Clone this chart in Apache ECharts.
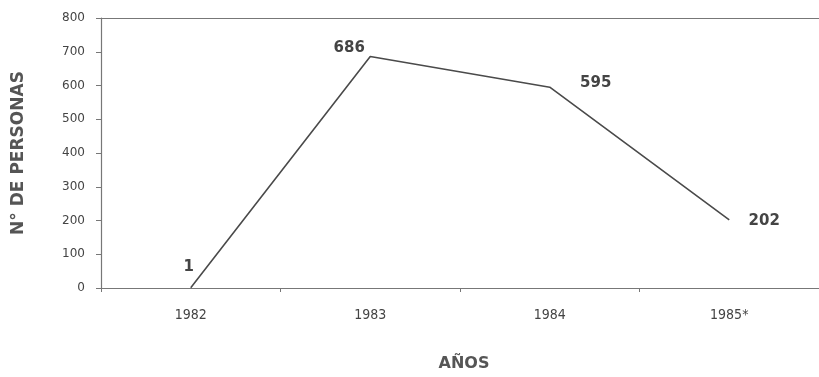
<!DOCTYPE html>
<html>
<head>
<meta charset="utf-8">
<script src="https://cdn.jsdelivr.net/npm/echarts@6/dist/echarts.min.js"></script>
<style>
  html, body { margin: 0; padding: 0; background: #fff; }
  #chart { width: 819px; height: 377px; }
</style>
</head>
<body>
<div id="chart"></div>
<script>
// Personas por año
const years = ['1982', '1983', '1984', '1985*'];
const persons = [1, 686, 595, 202];
const yTicks = [0, 100, 200, 300, 400, 500, 600, 700, 800];

// Per-point label placement
const labelPlacement = [
  { position: 'top', offset: [-2, -7] },
  { position: 'top', offset: [-21, 5] },
  { position: 'top', offset: [46, 9] },
  { position: 'top', offset: [35, 15] }
];

const chart = echarts.init(document.getElementById('chart'));
chart.setOption({
  backgroundColor: '#ffffff',
  animation: false,
  // the plot runs slightly past the right edge of the canvas
  grid: { left: 101, width: 724, top: 18, bottom: 88 },
  xAxis: [{
    type: 'category',
    data: years,
    boundaryGap: true,
    axisLine: { lineStyle: { color: '#777', width: 1.2 } },
    axisTick: { show: true, length: 4, lineStyle: { color: '#777' } },
    axisLabel: { color: '#444', fontSize: 14, fontFamily: 'DejaVu Sans Condensed', margin: 20 },
    name: 'AÑOS',
    nameLocation: 'middle',
    nameGap: 68,
    nameTextStyle: { color: '#555', fontSize: 16, fontWeight: 'bold', fontFamily: 'DejaVu Sans', padding: [0, 0, 0, 8] }
  }, {
    type: 'category',
    data: years,
    position: 'top',
    axisLine: { show: true, lineStyle: { color: '#777', width: 1.2 } },
    axisTick: { show: false },
    axisLabel: { show: false }
  }],
  yAxis: {
    type: 'value',
    min: 0,
    max: 800,
    interval: 100,
    axisLine: { show: true, lineStyle: { color: '#777', width: 1.2 } },
    axisTick: { show: true, length: 5, lineStyle: { color: '#777' } },
    splitLine: { show: false },
    axisLabel: {
      color: '#444', fontSize: 12, fontFamily: 'DejaVu Sans', margin: 16,
      formatter: v => (yTicks.indexOf(v) >= 0 ? String(v) : '')
    },
    name: 'N° DE PERSONAS',
    nameLocation: 'middle',
    nameGap: 74,
    nameRotate: 90,
    nameTextStyle: { color: '#555', fontSize: 17, fontWeight: 'bold', fontFamily: 'DejaVu Sans' }
  },
  series: [{
    type: 'line',
    data: persons.map((v, i) => ({
      value: v,
      label: Object.assign({ show: true }, labelPlacement[i])
    })),
    symbol: 'circle',
    symbolSize: 2,
    showSymbol: true,
    itemStyle: { color: 'rgba(0,0,0,0)', borderWidth: 0 },
    lineStyle: { color: '#4a4a4a', width: 1.6 },
    label: {
      show: true, distance: 5,
      color: '#444', fontSize: 15, fontWeight: 'bold', fontFamily: 'DejaVu Sans'
    }
  }]
});
</script>
</body>
</html>
